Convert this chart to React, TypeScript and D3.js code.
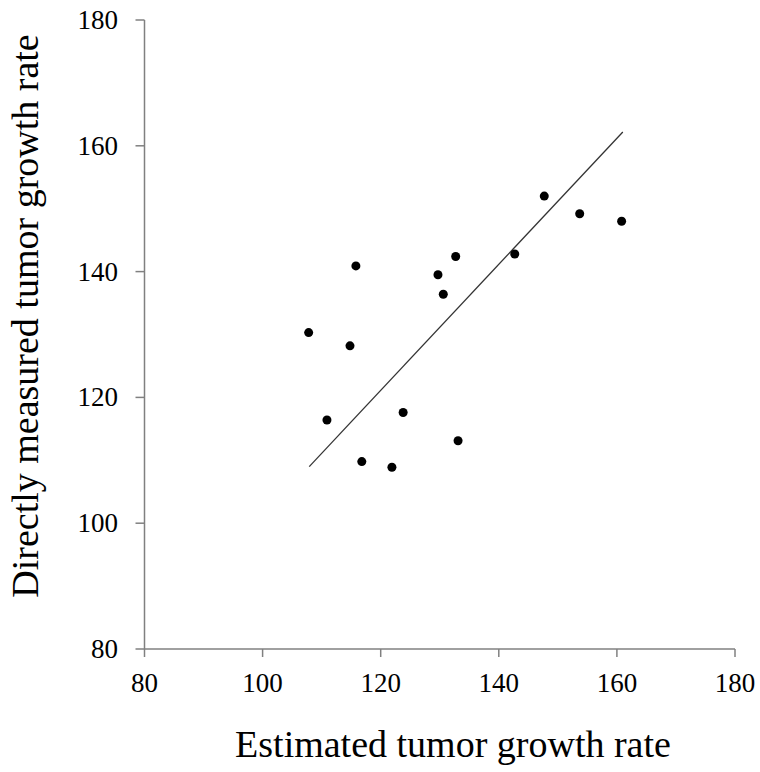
import React from "react";
import * as d3 from "d3";

const estimated = [115.8, 132.7, 129.7, 130.6, 142.7, 107.8, 114.8, 110.9, 123.8, 133.1, 116.8, 121.9, 147.7, 153.7, 160.8];
const measured = [140.9, 142.4, 139.5, 136.4, 142.8, 130.3, 128.2, 116.4, 117.6, 113.1, 109.8, 108.9, 152.0, 149.2, 148.0];
const fitX = [107.9, 161.0];
const fitY = [109.0, 162.2];
const xTicks = [80, 100, 120, 140, 160, 180];
const yTicks = [80, 100, 120, 140, 160, 180];

export default function App() {
  const W = 760, H = 772;
  const x = d3.scaleLinear().domain([80, 180]).range([144.5, 735]);
  const y = d3.scaleLinear().domain([80, 180]).range([649, 20]);
  const axisColor = "#808080";
  const font = "'Liberation Serif', 'Times New Roman', serif";
  const line = d3.line<number>().x((_, i) => x(fitX[i])).y((_, i) => y(fitY[i]));
  return (
    <svg width={W} height={H} style={{ position: "absolute", left: 0, top: 0, background: "#fff" }}>
      <line x1={x(80)} x2={x(180)} y1={y(80)} y2={y(80)} stroke={axisColor} strokeWidth={1.5} />
      <line x1={x(80)} x2={x(80)} y1={y(80)} y2={y(180)} stroke={axisColor} strokeWidth={1.5} />
      {xTicks.map((t) => (
        <g key={"x" + t}>
          <line x1={x(t)} x2={x(t)} y1={y(80)} y2={y(80) + 8} stroke={axisColor} strokeWidth={1.5} />
          <text x={x(t)} y={692} textAnchor="middle" fontFamily={font} fontSize={27} fill="#000">{t}</text>
        </g>
      ))}
      {yTicks.map((t) => (
        <g key={"y" + t}>
          <line x1={x(80) - 9} x2={x(80)} y1={y(t)} y2={y(t)} stroke={axisColor} strokeWidth={1.5} />
          <text x={118} y={y(t)} dy="0.33em" textAnchor="end" fontFamily={font} fontSize={27} fill="#000">{t}</text>
        </g>
      ))}
      <path d={line([0, 1]) || ""} stroke="#333" strokeWidth={1.3} fill="none" />
      {estimated.map((e, i) => (
        <circle key={i} cx={x(e)} cy={y(measured[i])} r={4.5} fill="#000" />
      ))}
      <text x={453} y={757} textAnchor="middle" fontFamily={font} fontSize={38} fill="#000">Estimated tumor growth rate</text>
      <text transform={`translate(38, 316) rotate(-90)`} textAnchor="middle" fontFamily={font} fontSize={38} fill="#000">Directly measured tumor growth rate</text>
    </svg>
  );
}
